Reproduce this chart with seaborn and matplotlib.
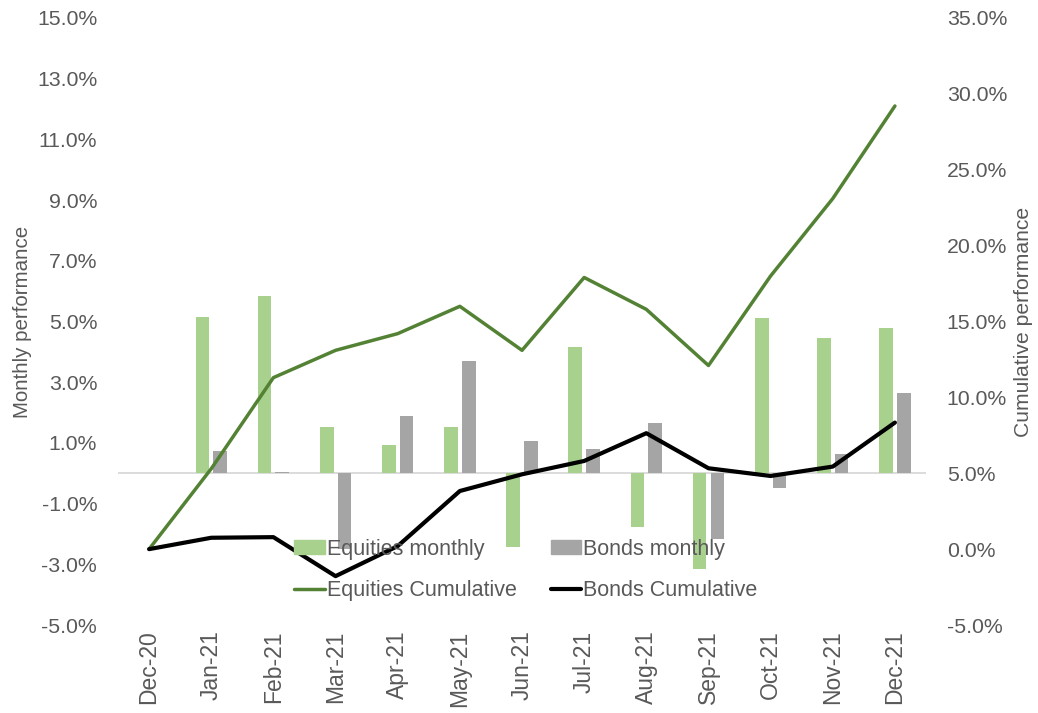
import pandas as pd
import numpy as np
import matplotlib
matplotlib.use("Agg")
import matplotlib.pyplot as plt
import seaborn as sns
from matplotlib.patches import Patch
from matplotlib.lines import Line2D

# ---------- data ----------
months = ["Dec-20", "Jan-21", "Feb-21", "Mar-21", "Apr-21", "May-21", "Jun-21",
          "Jul-21", "Aug-21", "Sep-21", "Oct-21", "Nov-21", "Dec-21"]

# monthly returns, % (no bar for Dec-20)
equities_monthly = [5.16, 5.83, 1.54, 0.94, 1.54, -2.44, 4.17, -1.76, -3.16, 5.11, 4.44, 4.77]
bonds_monthly = [0.72, 0.05, -2.50, 1.87, 3.71, 1.05, 0.80, 1.67, -2.15, -0.50, 0.62, 2.64]

# cumulative returns, %
equities_cum = [0.0, 5.3, 11.3, 13.1, 14.2, 16.0, 13.1, 17.9, 15.8, 12.1, 18.0, 23.1, 29.2]
bonds_cum = [0.0, 0.75, 0.79, -1.78, 0.2, 3.83, 4.93, 5.81, 7.64, 5.33, 4.82, 5.44, 8.34]

left_ticks = list(range(-5, 16, 2))
right_ticks = list(range(-5, 36, 5))

# ---------- style ----------
GREEN_BAR = "#A9D18E"
GRAY_BAR = "#A5A5A5"
GREEN_LINE = "#548235"
TEXT = "#595959"

sns.set_style("white")
plt.rcParams["font.family"] = ["Liberation Sans", "DejaVu Sans"]
plt.rcParams["font.size"] = 15
plt.rcParams["text.color"] = TEXT
plt.rcParams["axes.labelcolor"] = TEXT
plt.rcParams["xtick.color"] = TEXT
plt.rcParams["ytick.color"] = TEXT

# long-form table for the bars
bars = pd.DataFrame({
    "month": months[1:] * 2,
    "series": ["Equities monthly"] * 12 + ["Bonds monthly"] * 12,
    "value": equities_monthly + bonds_monthly,
})

fig = plt.figure(figsize=(10.38, 7.13), dpi=100)
ax = fig.add_axes([0.1137, 0.1234, 0.7784, 0.8514])

sns.barplot(data=bars, x="month", y="value", hue="series", order=months,
            hue_order=["Equities monthly", "Bonds monthly"],
            palette=[GREEN_BAR, GRAY_BAR], saturation=1, width=0.57, gap=0.23,
            errorbar=None, legend=False, linewidth=0, ax=ax)
ax.axhline(0, color="#D9D9D9", lw=1.3, zorder=0.5)

ax.set_xlim(-0.5, 12.5)
ax.set_ylim(-5, 15)
ax.set_yticks(left_ticks)
ax.set_yticklabels([f"{t:.1f}%" for t in left_ticks], fontsize=15.3)
ax.set_xticks(range(len(months)))
ax.set_xticklabels(months, rotation=90, fontsize=16.5)
ax.set_xlabel("")
ax.set_ylabel("Monthly performance", fontsize=14.8)
ax.yaxis.set_label_coords(-0.106, 0.5)

# cumulative lines on the secondary axis
ax2 = ax.twinx()
x = np.arange(len(months))
sns.lineplot(x=x, y=equities_cum, color=GREEN_LINE, lw=2.5, ax=ax2, sort=False)
sns.lineplot(x=x, y=bonds_cum, color="black", lw=3.0, ax=ax2, sort=False)
ax2.set_ylim(-5, 35)
ax2.set_yticks(right_ticks)
ax2.set_yticklabels([f"{t:.1f}%" for t in right_ticks], fontsize=15.3)
ax2.set_ylabel("Cumulative performance", fontsize=15.2)
ax2.yaxis.set_label_coords(1.109, 0.5)

for a in (ax, ax2):
    for s in a.spines.values():
        s.set_visible(False)
    a.tick_params(axis="y", length=0, pad=15)
    a.tick_params(axis="x", length=0, pad=4)
    a.grid(False)

handles = [Patch(color=GREEN_BAR), Line2D([], [], color=GREEN_LINE, lw=2.5),
           Patch(color=GRAY_BAR), Line2D([], [], color="black", lw=3.0)]
labels = ["Equities monthly", "Equities Cumulative", "Bonds monthly", "Bonds Cumulative"]
ax2.legend(handles, labels, ncol=2, loc="center", bbox_to_anchor=(0.505, 0.091),
           frameon=False, columnspacing=1.6, handlelength=1.4, handleheight=0.6,
           handletextpad=0.1, labelspacing=0.95, fontsize=15.5, labelcolor=TEXT)

fig.savefig("out.png", dpi=100)
